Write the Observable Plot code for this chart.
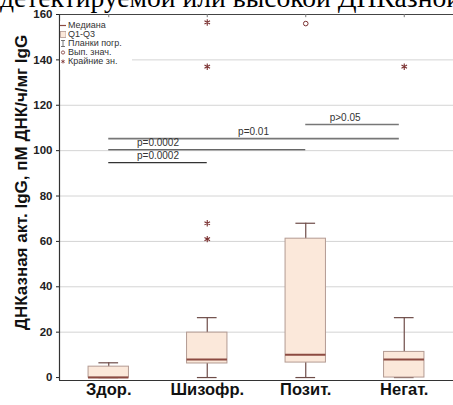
<!DOCTYPE html>
<html><head><meta charset="utf-8">
<script src="https://cdn.jsdelivr.net/npm/d3@7"></script>
<script src="https://cdn.jsdelivr.net/npm/@observablehq/plot@0.6"></script>
<style>
body{margin:0;background:#fff;}
#wrap{position:relative;width:453px;height:405px;overflow:hidden;background:#fff;}
#title{position:absolute;left:0;top:-18px;font-family:"Liberation Serif",serif;font-size:27.6px;white-space:nowrap;color:#000;z-index:2;}
#chart{position:absolute;left:0;top:0;}
#legend{position:absolute;left:60px;top:21px;width:72px;background:#fff;font-family:"Liberation Sans",Arial,sans-serif;font-size:9px;color:#333;line-height:9px;padding-bottom:4px;}
#legend div{display:flex;align-items:center;height:9px;white-space:nowrap;}
#legend svg{width:6px;height:9px;margin-right:2px;flex:none;}
</style></head><body>
<div id="wrap"><div id="title">детектируемой или высокой ДНКазной</div><div id="chart"></div><div id="legend"></div></div>
<script>
const categories = ["Здор.", "Шизофр.", "Позит.", "Негат."];
const q1 = [0, 6.2, 6.6, 0];
const q3 = [4.8, 19.8, 61.2, 11.3];
const median = [0, 8, 10.1, 8];
const whiskerLow = [0, 0, 0, 0];
const whiskerHigh = [6.5, 26.4, 68, 26.4];
const outlierCat = ["Позит."];
const outlierVal = [156];
const extremeCat = ["Шизофр.", "Шизофр.", "Шизофр.", "Шизофр.", "Негат."];
const extremeVal = [156.5, 137, 68, 61, 137];
const pLabels = ["p=0.0002", "p=0.0002", "p=0.01", "p>0.05"];
const pFrom = ["Здор.", "Здор.", "Здор.", "Позит."];
const pTo = ["Шизофр.", "Позит.", "Негат.", "Негат."];
const pLevel = [94.7, 100.4, 105.3, 111.5];
const pTextPos = [1.0, 1.0, 1.97, 2.9];
const yTicks = [0, 20, 40, 60, 80, 100, 120, 140, 160];
const gridTicks = [20, 40, 60, 80, 100, 120, 140];
const legendLabels = ["Медиана", "Q1-Q3", "Планки погр.", "Вып. знач.", "Крайние зн."];
const yLabel = "ДНКазная акт. IgG, пМ ДНК/ч/мг IgG";

const ci = c => categories.indexOf(c) + 0.5;
const boxes = categories.map((c, i) => ({c, x: i + 0.5, q1: q1[i], q3: q3[i], med: median[i], lo: whiskerLow[i], hi: whiskerHigh[i]}));
const outliers = outlierCat.map((c, i) => ({x: ci(c), y: outlierVal[i]}));
const extremes = extremeCat.map((c, i) => ({x: ci(c), y: extremeVal[i]}));
const plines = pLabels.map((l, i) => ({l, x1: ci(pFrom[i]), x2: ci(pTo[i]) - (i >= 2 ? 0.05 : 0), y: pLevel[i], tx: pTextPos[i]}));

const boxHalf = 0.205, capHalf = 0.1;
const boxFill = "#fbe8da", boxStroke = "#b39a92", medCol = "#8c4a40", whCol = "#6e4c48", markCol = "#7a3030";

const chart = Plot.plot({
  width: 453, height: 405,
  marginLeft: 59, marginRight: 0, marginTop: 14, marginBottom: 25,
  x: {domain: [0, 4], axis: null},
  y: {domain: [-1.3, 160], axis: null},
  style: {fontFamily: "Liberation Sans, Arial, sans-serif", background: "#fff"},
  marks: [
    Plot.ruleY(gridTicks, {stroke: "#d4d4d4", strokeWidth: 1}),
    Plot.ruleY([160], {stroke: "#444", strokeWidth: 1}),
    Plot.ruleX(boxes, {x: "x", y1: 160, y2: 158.6, stroke: "#777"}),
    Plot.ruleX(boxes, {x: "x", y1: "lo", y2: "hi", stroke: whCol, strokeWidth: 1.2}),
    Plot.ruleY(boxes, {y: "hi", x1: d => d.x - capHalf, x2: d => d.x + capHalf, stroke: whCol, strokeWidth: 1.2}),
    Plot.ruleY(boxes, {y: "lo", x1: d => d.x - capHalf, x2: d => d.x + capHalf, stroke: whCol, strokeWidth: 1.2}),
    Plot.rect(boxes, {x1: d => d.x - boxHalf, x2: d => d.x + boxHalf, y1: "q1", y2: "q3", fill: boxFill, stroke: boxStroke, strokeWidth: 1}),
    Plot.ruleY(boxes, {y: "med", x1: d => d.x - boxHalf, x2: d => d.x + boxHalf, stroke: medCol, strokeWidth: 2}),
    Plot.dot(extremes, {x: "x", y: "y", symbol: "asterisk", r: 3, stroke: markCol, strokeWidth: 1.1}),
    Plot.dot(outliers, {x: "x", y: "y", symbol: "circle", r: 2.3, stroke: markCol, strokeWidth: 1}),
    Plot.ruleY(plines.slice(0, 2), {y: "y", x1: "x1", x2: "x2", stroke: "#333", strokeWidth: 1.2}),
    Plot.ruleY(plines.slice(2), {y: "y", x1: "x1", x2: "x2", stroke: "#777", strokeWidth: 1.6}),
    Plot.text(plines, {x: "tx", y: "y", text: "l", dy: -7, fontSize: 10, fill: "#333"}),
    Plot.axisY({ticks: yTicks, tickSize: 3, tickPadding: 4, fontSize: 11.5, fontWeight: "bold", color: "#222"}),
    Plot.axisX({ticks: categories.map((c, i) => i + 0.5), tickFormat: v => categories[Math.round(v - 0.5)], tickSize: 0, tickPadding: 3, fontSize: 16.5, fontWeight: "bold", color: "#111", label: null}),
    Plot.ruleX([0], {stroke: "#333", strokeWidth: 1.2}),
    Plot.ruleY([-1.3], {stroke: "#333", strokeWidth: 1.2}),
    Plot.text([yLabel], {frameAnchor: "left", textAnchor: "middle", dx: -38, dy: -15, rotate: -90, fontSize: 17, fontWeight: "bold", fill: "#111", text: d => d})
  ]
});
document.getElementById("chart").appendChild(chart);

// legend
const sym = [
  '<svg viewBox="0 0 6 9"><line x1="0" y1="4.5" x2="6" y2="4.5" stroke="' + medCol + '" stroke-width="1.2"/></svg>',
  '<svg viewBox="0 0 6 9"><rect x="0.5" y="1.5" width="5.5" height="6" fill="' + boxFill + '" stroke="' + boxStroke + '" stroke-width="0.8"/></svg>',
  '<svg viewBox="0 0 6 9"><path d="M1 1.5H5M3 1.5V7.5M1 7.5H5" stroke="#555" stroke-width="0.8" fill="none"/></svg>',
  '<svg viewBox="0 0 6 9"><circle cx="3" cy="4.5" r="1.6" fill="none" stroke="' + markCol + '" stroke-width="0.8"/></svg>',
  '<svg viewBox="0 0 6 9"><path d="M3 2.5V6.5M1.3 3.5L4.7 5.5M1.3 5.5L4.7 3.5" stroke="' + markCol + '" stroke-width="0.8"/></svg>'
];
document.getElementById("legend").innerHTML = legendLabels.map((l, i) => '<div>' + sym[i] + '<span>' + l + '</span></div>').join("");
</script>
</body></html>
